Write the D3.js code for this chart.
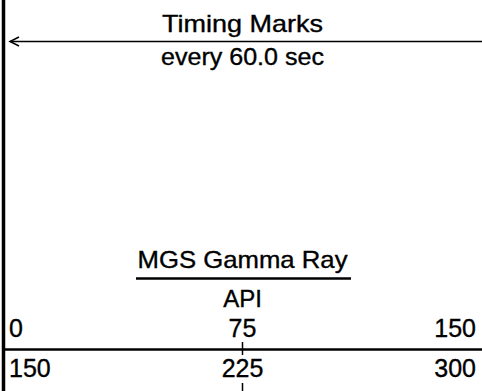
<!DOCTYPE html>
<html>
<head>
<meta charset="utf-8">
<script src="https://cdn.jsdelivr.net/npm/d3@7"></script>
<style>
  html, body { margin: 0; padding: 0; background: #fff; }
  text { font-family: "Liberation Sans", Arial, sans-serif; fill: #000; font-size: 24px;
         stroke: #000; stroke-width: 0.35px; }
</style>
</head>
<body>
<div id="chart"></div>
<script>
// header data
var timingTitle = "Timing Marks";
var timingNote = "every 60.0 sec";
var curveName = "MGS Gamma Ray";
var curveUnit = "API";
var scaleTicks = [0, 75, 150];        // main scale
var wrapTicks = [150, 225, 300];      // wrap-around scale

function init(){

    var w = 482;
    var h = 391;

    var svg = d3.select("#chart")
                .append("svg")
                .attr("width", w)
                .attr("height", h);

    var x = d3.scaleLinear()
              .domain(d3.extent(scaleTicks))
              .range([3, w]);

    var x2 = d3.scaleLinear()
               .domain(d3.extent(wrapTicks))
               .range([3, w]);

    var mid = (x.range()[0] + x.range()[1]) / 2;

    // left track border
    svg.append("line")
        .attr("x1", 3.5).attr("x2", 3.5)
        .attr("y1", 0).attr("y2", h)
        .attr("stroke", "#000")
        .attr("stroke-width", 3.5);

    // timing marks
    svg.append("text")
        .attr("x", mid).attr("y", 31.5)
        .attr("text-anchor", "middle")
        .attr("textLength", 161)
        .attr("lengthAdjust", "spacingAndGlyphs")
        .text(timingTitle);

    svg.append("line")
        .attr("x1", 10).attr("x2", w)
        .attr("y1", 41.5).attr("y2", 41.5)
        .attr("stroke", "#000")
        .attr("stroke-width", 1.5);

    svg.append("path")
        .attr("d", "M19,37L10,41.5L19,46")
        .attr("fill", "none")
        .attr("stroke", "#000")
        .attr("stroke-width", 1.5);

    svg.append("text")
        .attr("x", mid).attr("y", 65)
        .attr("text-anchor", "middle")
        .attr("textLength", 163)
        .attr("lengthAdjust", "spacingAndGlyphs")
        .text(timingNote);

    // curve name + unit
    svg.append("text")
        .attr("x", mid).attr("y", 268)
        .attr("text-anchor", "middle")
        .attr("textLength", 210)
        .attr("lengthAdjust", "spacingAndGlyphs")
        .text(curveName);

    svg.append("line")
        .attr("x1", 136).attr("x2", 351)
        .attr("y1", 278.5).attr("y2", 278.5)
        .attr("stroke", "#000")
        .attr("stroke-width", 2.5);

    svg.append("text")
        .attr("x", mid).attr("y", 307)
        .attr("text-anchor", "middle")
        .text(curveUnit);

    var anchor = function(d, i, n){
        if (i == 0) return "start";
        if (i == n.length - 1) return "end";
        return "middle";
    };
    var shift = function(d, i, n){
        if (i == 0) return 6;
        if (i == n.length - 1) return -6;
        return 0;
    };

    // main scale labels
    svg.selectAll("text.scale")
        .data(scaleTicks)
        .enter()
        .append("text")
        .attr("class", "scale")
        .attr("x", function(d, i, n){ return x(d) + shift(d, i, n); })
        .attr("y", 337)
        .attr("text-anchor", anchor)
        .style("font-size", "25px")
        .text(function(d){ return d; });

    svg.append("line")
        .attr("x1", 3).attr("x2", w)
        .attr("y1", 349.5).attr("y2", 349.5)
        .attr("stroke", "#000")
        .attr("stroke-width", 2.5);

    svg.append("line")
        .attr("x1", x(75)).attr("x2", x(75))
        .attr("y1", 342).attr("y2", 355)
        .attr("stroke", "#000")
        .attr("stroke-width", 1.5);

    // wrap scale labels
    svg.selectAll("text.wrap")
        .data(wrapTicks)
        .enter()
        .append("text")
        .attr("class", "wrap")
        .attr("x", function(d, i, n){ return x2(d) + shift(d, i, n); })
        .attr("y", 377)
        .attr("text-anchor", anchor)
        .style("font-size", "25px")
        .text(function(d){ return d; });

    svg.append("line")
        .attr("x1", x2(225)).attr("x2", x2(225))
        .attr("y1", 383).attr("y2", h)
        .attr("stroke", "#000")
        .attr("stroke-width", 1.5);
}

window.onload = init;
</script>
</body>
</html>
